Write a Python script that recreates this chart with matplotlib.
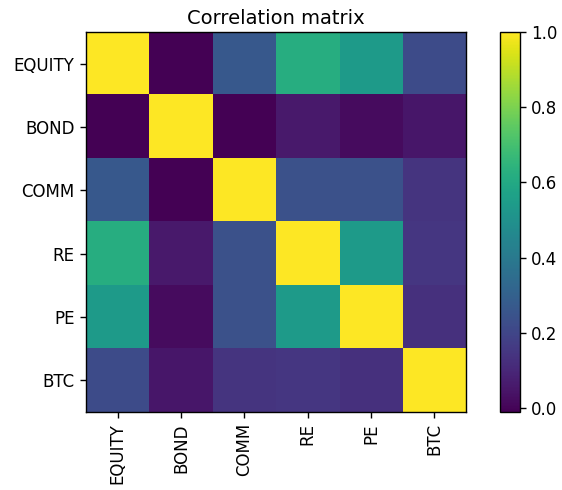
import numpy as np
import matplotlib.pyplot as plt

assets = ['EQUITY', 'BOND', 'COMM', 'RE', 'PE', 'BTC']
corr = np.array([
    [1.00, -0.01, 0.27, 0.62, 0.54, 0.22],
    [-0.01, 1.00, -0.01, 0.06, 0.02, 0.05],
    [0.27, -0.01, 1.00, 0.24, 0.24, 0.14],
    [0.62, 0.06, 0.24, 1.00, 0.54, 0.15],
    [0.54, 0.02, 0.24, 0.54, 1.00, 0.13],
    [0.22, 0.05, 0.14, 0.15, 0.13, 1.00],
])

plt.rcParams['font.size'] = 12
plt.rcParams['axes.linewidth'] = 1.0
plt.rcParams['xtick.major.width'] = 1.0
plt.rcParams['ytick.major.width'] = 1.0
plt.rcParams['xtick.major.size'] = 4.5
plt.rcParams['ytick.major.size'] = 4.5

fig = plt.figure(figsize=(5.62, 4.9), dpi=100)
ax = fig.add_axes([0.151, 0.159, 0.680, 0.776])
cax = fig.add_axes([0.890, 0.159, 0.035, 0.776])
im = ax.imshow(corr, cmap='viridis')
fig.colorbar(im, cax=cax)
ax.set_xticks(range(len(assets)))
ax.set_xticklabels(assets, rotation=90)
ax.set_yticks(range(len(assets)))
ax.set_yticklabels(assets)
ax.set_title('Correlation matrix', fontsize=14)
fig.savefig('out.png', dpi=100)
